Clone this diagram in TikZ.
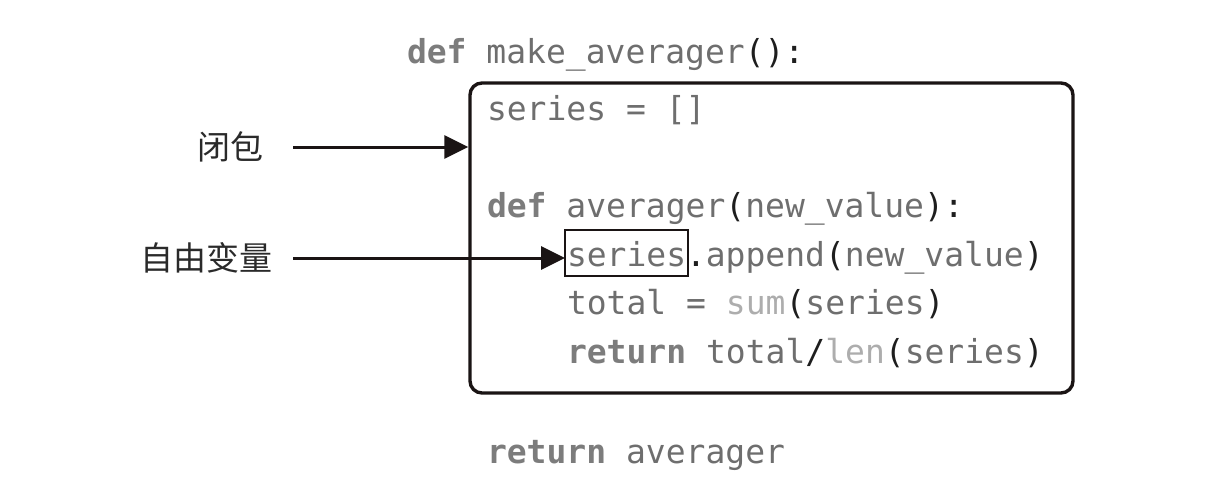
\documentclass[tikz,border=0pt]{standalone}
\usepackage{fontspec}
\usetikzlibrary{arrows.meta}
\newfontfamily\codefont{DejaVu Sans Mono}
\newfontfamily\cjk{Noto Sans CJK SC}
\definecolor{codegray}{HTML}{6E6E6E}
\definecolor{kwgray}{HTML}{7C7C7C}
\definecolor{builtin}{HTML}{ADADAD}
\definecolor{punct}{HTML}{1E1E1E}
\definecolor{ink}{HTML}{1A1414}
\definecolor{labelink}{HTML}{2A2A2A}
% code helpers: punctuation, keywords, builtins
\newcommand\pn[1]{\textcolor{punct}{#1}}
\newcommand\kw[1]{\textcolor{kwgray}{\bfseries #1}}
\newcommand\bi[1]{\textcolor{builtin}{#1}}
\begin{document}
\begin{tikzpicture}[x=1pt,y=-1pt,
  code/.style={anchor=base west,inner sep=0pt,outer sep=0pt,text=codegray,
    font=\codefont\fontsize{33}{40}\selectfont},
  label/.style={anchor=east,inner sep=0pt,text=labelink,font=\cjk\fontsize{33}{40}\selectfont},
  arr/.style={draw=ink,line width=3pt,-{Triangle[length=24pt,width=23pt]}},
  frame/.style={draw=ink,line width=3.4pt,rounded corners=12pt,
    minimum width=603pt,minimum height=310pt,inner sep=0pt},
  freevar/.style={draw=ink,line width=1.6pt,anchor=base west,inner xsep=2pt,
    inner ysep=3pt,text height=33pt,text depth=7pt,outer sep=0pt,text=codegray,
    font=\codefont\fontsize{33}{40}\selectfont}]
\useasboundingbox (0,0) rectangle (1220,490);

% enclosing function body
\node[frame] (closure) at (771.5,238) {};

% code lines
\node[code] (l0) at (407,63) {\kw{def} make\_averager\pn{():}};
\node[code] (l1) at (487,120) {series = []};
\node[code] (l2) at (487,217) {\kw{def} averager\pn{(}new\_value\pn{):}};
\node[freevar] (fv) at (565,266) {series};
\node[code] (l3) at (686,266) {\pn{.}append\pn{(}new\_value\pn{)}};
\node[code] (l4) at (567,314) {total = \bi{sum}\pn{(}series\pn{)}};
\node[code] (l5) at (567,363) {\kw{return} total\pn{/}\bi{len}\pn{(}series\pn{)}};
\node[code] (l6) at (487,463) {\kw{return} averager};

% labels
\node[label] (lclosure) at (264,147) {闭包};
\node[label] (lfree) at (273,258) {自由变量};

% connectors
\coordinate (s1) at (293,147);
\coordinate (s2) at (293,258);
\draw[arr] (s1) -- (closure.west |- s1);
\draw[arr] (s2) -- (fv.west |- s2);
\end{tikzpicture}
\end{document}
